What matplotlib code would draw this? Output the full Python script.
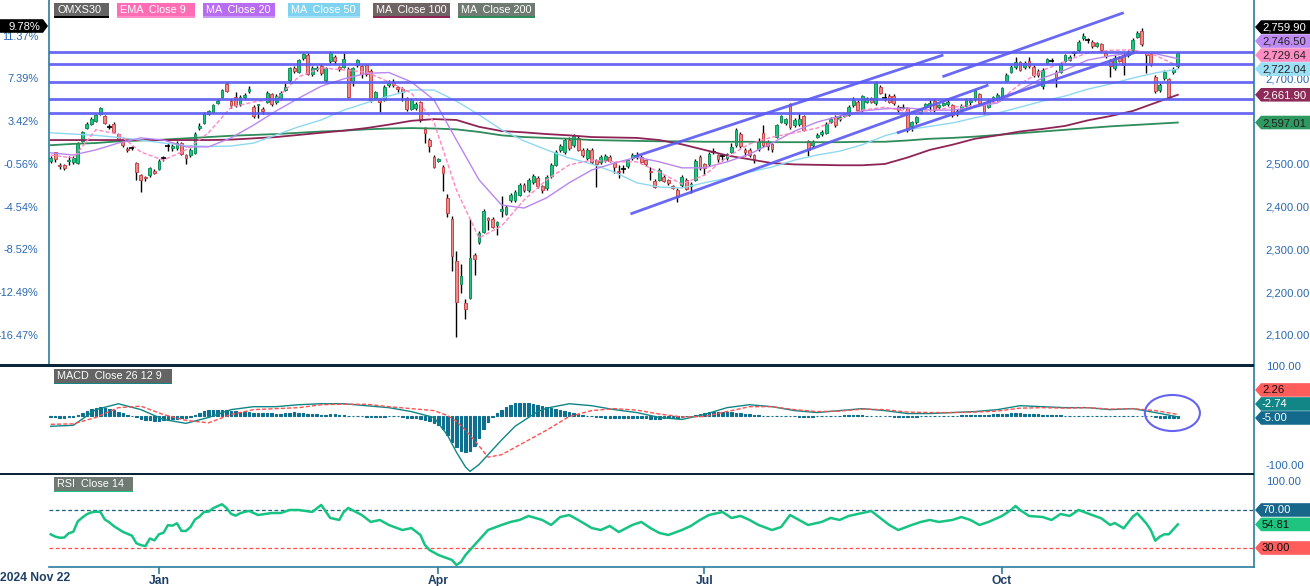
import matplotlib
matplotlib.use("Agg")
import matplotlib.pyplot as plt
from matplotlib.patches import Polygon, Rectangle, Ellipse
from matplotlib.ticker import FixedLocator, FuncFormatter
import numpy as np

plt.rcParams['font.family'] = ['Liberation Sans', 'DejaVu Sans']

# ---------------- data ----------------
opens = [2507,2527,2497,2498,2507,2505,2502,2554,2585,2594,2600,2617,2612,2588,2594,2570,2554,2536,2537,2502,
         2474,2470,2474,2484,2489,2512,2540,2537,2537,2549,2521,2521,2526,2585,2596,2617,2622,2643,2657,2688,
         2648,2657,2640,2657,2670,2634,2638,2629,2646,2663,2645,2654,2674,2696,2724,2716,2747,2755,2710,2722,
         2729,2696,2740,2751,2726,2728,2722,2693,2731,2729,2731,2718,2654,2650,2650,2685,2692,2679,2676,2654,
         2629,2631,2645,2582,2556,2517,2508,2494,2420,2371,2273,2219,2175,2187,2287,2318,2341,2374,2371,2357,
         2391,2383,2416,2416,2428,2451,2439,2458,2467,2449,2444,2472,2498,2533,2528,2556,2544,2561,2533,2514,
         2533,2509,2505,2509,2517,2502,2484,2489,2495,2514,2516,2517,2509,2484,2461,2463,2470,2463,2449,2439,
         2451,2463,2449,2463,2517,2500,2500,2528,2521,2517,2513,2529,2544,2570,2533,2533,2521,2535,2573,2552,
         2547,2564,2599,2595,2640,2591,2594,2612,2554,2544,2564,2569,2572,2599,2610,2605,2612,2615,2638,2646,
         2626,2646,2654,2642,2681,2656,2659,2659,2634,2633,2630,2589,2598,2620,2634,2638,2648,2633,2638,2640,
         2638,2616,2626,2636,2646,2651,2663,2643,2634,2650,2651,2656,2695,2716,2726,2739,2726,2742,2728,2718,
         2682,2737,2742,2716,2716,2742,2743,2759,2767,2794,2788,2786,2776,2780,2759,2741,2724,2749,2755,2755,
         2767,2798,2810,2760,2757,2704,2673,2700,2698,2715,2729]
highs = [2518,2529,2503,2500,2518,2518,2552,2578,2598,2609,2617,2634,2615,2593,2598,2573,2557,2540,2542,2505,
         2477,2473,2494,2489,2511,2519,2549,2547,2554,2552,2524,2537,2575,2596,2622,2627,2641,2652,2676,2692,
         2652,2669,2661,2666,2683,2638,2641,2634,2671,2666,2663,2671,2689,2727,2729,2746,2760,2759,2729,2729,
         2733,2727,2764,2754,2730,2760,2726,2727,2746,2731,2735,2722,2671,2652,2685,2696,2699,2683,2680,2657,
         2654,2645,2648,2587,2561,2521,2515,2498,2430,2378,2297,2266,2185,2371,2292,2344,2394,2376,2375,2366,
         2424,2405,2432,2440,2456,2456,2467,2477,2472,2452,2474,2502,2533,2547,2561,2563,2570,2565,2537,2537,
         2537,2512,2520,2523,2521,2505,2498,2497,2512,2526,2528,2521,2512,2494,2465,2490,2474,2466,2452,2443,
         2475,2467,2458,2512,2520,2503,2528,2537,2524,2523,2526,2549,2584,2575,2538,2537,2524,2560,2592,2555,
         2550,2594,2615,2607,2643,2607,2620,2615,2557,2556,2572,2579,2598,2609,2614,2614,2620,2638,2656,2650,
         2662,2657,2657,2694,2685,2665,2663,2663,2638,2640,2634,2601,2613,2629,2643,2650,2652,2641,2646,2655,
         2641,2628,2640,2654,2654,2676,2666,2646,2651,2660,2665,2680,2712,2731,2750,2742,2741,2750,2731,2722,
         2725,2749,2747,2720,2739,2758,2754,2764,2790,2806,2795,2789,2786,2784,2762,2745,2755,2752,2760,2766,
         2794,2811,2817,2763,2760,2708,2689,2720,2702,2726,2762]
lows = [2503,2505,2489,2486,2498,2500,2500,2551,2582,2591,2598,2614,2593,2582,2572,2554,2540,2528,2532,2463,
        2435,2460,2470,2476,2486,2507,2530,2530,2533,2520,2500,2517,2523,2580,2593,2614,2619,2640,2654,2668,
        2631,2633,2636,2652,2666,2608,2608,2618,2643,2636,2641,2650,2671,2692,2713,2712,2744,2707,2706,2717,
        2708,2692,2736,2734,2718,2724,2654,2682,2727,2700,2705,2645,2650,2622,2647,2680,2680,2668,2648,2624,
        2626,2627,2598,2550,2529,2490,2505,2437,2376,2250,2095,2198,2137,2185,2240,2313,2339,2346,2350,2334,
        2377,2380,2412,2410,2424,2435,2435,2454,2445,2432,2440,2468,2495,2528,2524,2533,2540,2530,2516,2510,
        2500,2446,2500,2505,2504,2480,2467,2480,2490,2510,2512,2502,2496,2462,2443,2460,2457,2452,2441,2412,
        2447,2438,2432,2460,2487,2475,2496,2523,2505,2508,2510,2526,2540,2537,2519,2516,2503,2531,2540,2533,
        2528,2561,2596,2591,2583,2587,2590,2577,2519,2540,2560,2565,2569,2596,2587,2601,2609,2612,2634,2622,
        2622,2643,2642,2639,2663,2648,2642,2638,2622,2628,2575,2577,2594,2617,2630,2624,2622,2629,2635,2636,
        2611,2612,2622,2633,2636,2648,2640,2618,2630,2646,2648,2653,2692,2713,2722,2717,2722,2725,2704,2704,
        2675,2733,2738,2680,2712,2738,2740,2752,2762,2790,2783,2772,2773,2763,2749,2704,2720,2738,2709,2751,
        2763,2795,2777,2713,2730,2667,2669,2696,2651,2710,2725]
closes = [2514.1,2511,2495,2491,2510,2514,2549,2575,2594,2605,2614,2631,2596,2587,2575,2558,2544,2533,2538,2481,
          2462,2467,2491,2479,2508,2513,2541,2541,2549,2523,2514,2533,2570,2589,2617,2624,2638,2648,2673,2671,
          2637,2637,2657,2662,2675,2612,2640,2623,2667,2640,2659,2667,2680,2724,2717,2743,2757,2710,2724,2724,
          2712,2724,2760,2740,2723,2745,2657,2724,2743,2710,2710,2650,2668,2645,2681,2690,2685,2675,2669,2628,
          2650,2640,2603,2572,2542,2493,2511,2478,2385,2285,2177,2238,2161,2280,2278,2339,2390,2369,2353,2364,
          2394,2400,2428,2435,2451,2439,2463,2472,2449,2439,2470,2498,2528,2542,2556,2537,2565,2533,2521,2533,
          2505,2500,2516,2519,2508,2493,2481,2488,2509,2521,2521,2505,2500,2481,2447,2486,2461,2456,2445,2423,
          2470,2442,2453,2507,2491,2491,2523,2529,2512,2518,2523,2540,2579,2543,2529,2521,2511,2554,2544,2541,
          2536,2591,2612,2605,2587,2603,2605,2580,2533,2552,2568,2575,2594,2605,2591,2610,2617,2634,2650,2626,
          2659,2654,2646,2690,2667,2655,2646,2642,2626,2632,2580,2598,2610,2626,2640,2642,2626,2638,2643,2645,
          2615,2625,2636,2650,2650,2673,2643,2622,2648,2656,2661,2677,2708,2728,2739,2721,2737,2729,2708,2708,
          2721,2745,2742,2700,2735,2755,2751,2760,2786,2799,2789,2776,2782,2767,2753,2729,2749,2742,2732,2763,
          2790,2807,2781,2755,2734,2671,2685,2716,2656,2722,2759.9]

# moving averages, read every 5 bars
ma_idx = list(range(0, 251, 5))
ema9 = [2521,2514,2580,2570,2528,2509,2533,2573,2633,2645,2652,2704,2725,2720,2715,2692,2666,2598,2439,2327,
        2355,2416,2463,2498,2509,2505,2505,2481,2453,2474,2516,2547,2563,2573,2584,2605,2626,2633,2622,2624,
        2633,2637,2645,2687,2719,2740,2760,2766,2767,2754,2729.64]
ma20 = [2526,2521,2533,2549,2561,2556,2540,2540,2561,2591,2624,2654,2682,2699,2712,2714,2692,2650,2556,2463,
        2404,2397,2421,2456,2486,2502,2516,2505,2491,2491,2505,2523,2549,2577,2598,2612,2624,2629,2631,2626,
        2626,2633,2643,2673,2701,2720,2743,2753,2760,2758,2746.50]
ma50 = [2573,2570,2567,2562,2556,2549,2543,2541,2542,2549,2568,2587,2603,2626,2643,2659,2673,2673,2647,2615,
        2580,2554,2533,2514,2500,2481,2456,2446,2444,2456,2467,2481,2493,2509,2521,2530,2545,2566,2580,2588,
        2596,2608,2619,2633,2647,2659,2675,2687,2701,2713,2722.04]
ma100 = [2556,2556,2556,2556,2556,2556,2556,2556,2557,2560,2563,2568,2573,2578,2584,2592,2601,2605,2603,2587,
         2577,2574,2570,2567,2563,2562,2561,2556,2546,2533,2520,2511,2502,2499,2498,2497,2497,2500,2515,2533,
         2545,2559,2567,2576,2582,2589,2602,2612,2624,2643,2661.90]
ma200 = [2544,2547,2549,2553,2555,2557,2560,2563,2566,2568,2570,2573,2576,2578,2581,2583,2584,2583,2581,2575,
         2567,2563,2561,2559,2556,2555,2554,2553,2553,2552,2552,2552,2551,2551,2551,2551,2552,2552,2555,2559,
         2561,2564,2568,2572,2576,2580,2584,2588,2591,2594,2597.01]

# MACD (26,12,9): lines read at the listed bars, histogram per bar
macd_idx = [0,5,10,15,20,25,30,35,40,45,50,55,60,65,70,75,80,85,88,90,92,93,95,97,100,103,105,108,110,115,
            120,125,130,135,140,145,150,155,160,165,170,175,180,185,190,195,200,205,210,215,220,225,230,235,
            240,245,250]
macd_line = [-22,-20,12,24,12,-8,-16,-4,12,18,18,22,24,24,20,16,8,-4,-40,-75,-105,-114,-100,-80,-50,-22,-10,8,15,24,
             20,12,6,-4,-8,2,16,22,18,10,6,10,14,10,4,4,6,8,12,20,18,16,16,12,14,6,-2.74]
macd_signal = [-18,-17,-4,16,19,2,-10,-15,2,12,14,16,22,23,23,18,14,10,0,-12,-30,-40,-62,-85,-80,-65,-55,-40,-30,-2,
               10,14,11,3,-3,-2,8,18,18,12,8,9,13,12,7,6,6,7,9,15,16,15,16,13,14,10,2.26]
macd_hist = [-4,-4,-5,-5,-4,-3,2,6,10,14,16,17,16,14,11,8,5,2,-1,-4,-7,-9,-10,-11,-11,-10,-9,-8,-7,-6,
             -6,-3,2,6,9,11,12,12,12,11,10,9,8,7,7,6,5,5,5,5,4,4,5,6,7,6,6,4,3,3,
             2,2,3,3,2,1,-1,-1,-1,-2,-3,-4,-4,-4,-3,-2,-2,-2,-3,-5,-6,-6,-7,-9,-12,-16,-20,-28,-40,-55,
             -65,-72,-75,-72,-62,-45,-28,-14,-4,5,12,18,22,25,26,26,25,24,22,20,18,16,14,12,10,8,6,4,2,0,
             -2,-3,-4,-5,-5,-5,-5,-6,-6,-6,-6,-6,-6,-7,-7,-7,-6,-6,-5,-5,-3,-2,0,2,4,6,7,8,8,8,
             8,7,6,5,4,3,2,1,0,0,-1,-1,-2,-2,-2,-2,-3,-3,-3,-3,-2,-2,-1,-1,0,0,1,1,1,1,
             1,0,0,-1,-1,-2,-2,-3,-3,-3,-3,-3,-3,-2,-2,-2,-2,-1,-1,0,0,0,1,1,1,2,2,2,2,3,
             3,4,4,5,5,5,4,4,3,3,2,2,1,1,1,0,0,0,0,0,-1,-1,-1,-1,-1,-2,-2,-1,-1,0,
             0,0,0,-1,-2,-4,-5,-6,-6,-6,-5.00]

# RSI 14
rsi_idx = list(range(0, 45)) + [46,49,51,53,55,58,60,62,64,65,66,69,71,73,75,78,80,82,83,84,86,89,90,91,92,93,
           95,97,100,102,104,106,109,111,113,115,117,120,122,124,126,129,131,133,135,137,140,142,144,146,149,
           151,153,155,157,160,162,164,166,168,171,173,175,177,180,182,184,186,188,191,193,195,197,200,202,
           204,206,208,211,213,214,215,217,220,222,224,226,228,231,233,235,236,238,240,241,243,244,245,246,
           247,248,250]
rsi_val = [44.4,42,40.8,41,45.5,47,58,62,65.5,67.5,68.2,68,60,57,53,50,47,45,43,35,33,32,40,38,44.4,46,54,53.5,
           56,48,47.9,52,60,63,68,68.2,71.8,74,76,72,66,64,66.5,68,69,
           64.7,66.8,66.8,70,70,67.9,75.3,61.6,59.5,67.9,72.1,64.7,57.4,59.5,54.2,48.9,51,43.7,33.2,27.9,22.6,
           17.4,12.1,15.3,22.6,27.9,38.4,48.9,54.2,57.4,59.5,63.7,59.5,54.2,62.6,64.7,59.5,51,48.9,53.2,46.8,
           54.2,57.4,51,45.8,43.7,48.9,53.2,59.5,64.7,67.9,61.6,63.7,59.5,54.2,48.9,52.1,64.7,59.5,54.2,57.4,
           61.6,59.5,63.7,66.8,68.9,61.6,54.2,48.9,54.2,57.4,59.5,57.4,59.5,62.6,59.5,54.2,57.4,63.7,70,74.2,
           70,63.7,62.6,59.5,65.8,63.7,70,64.7,61.3,54.2,56.3,50.7,62.9,66.5,56,48.9,37.7,41.9,44.4,44.4,54.81]

# drawn levels / trend channels
h_levels = [2761.3, 2733.2, 2692.5, 2651.3, 2620.0]
trend_lines = [((128.6, 2383.1), (208.0, 2684.8)),
               ((129.5, 2517.1), (198.0, 2755.0)),
               ((187.7, 2572.5), (240.5, 2760.8)),
               ((197.8, 2704.2), (238.0, 2853.9))]
month_pos = [24, 86, 145, 211]
month_lab = ['Jan', 'Apr', 'Jul', 'Oct']
start_label = '2024 Nov 22'
pct_ticks = [2100, 2200, 2300, 2400, 2500, 2600, 2700, 2800]
price_ticks = [2100, 2200, 2300, 2400, 2500, 2700]   # 2,600 / 2,800 sit under the value tags
macd_ticks = [-100, 100]
rsi_ticks = [100]

# ---------------- layout ----------------
W, H = 1310, 586
fig = plt.figure(figsize=(W / 100, H / 100), dpi=100)
fig.patch.set_facecolor('white')

def fx(x):
    return x / W

def fy(y):
    return 1 - y / H

XL, XR = 49, 1254
ax = fig.add_axes([fx(XL), fy(365), (XR - XL) / W, 365 / H])
axm = fig.add_axes([fx(XL), fy(473), (XR - XL) / W, (473 - 366) / H], sharex=ax)
axr = fig.add_axes([fx(XL), fy(567), (XR - XL) / W, (567 - 475) / H], sharex=ax)

AXC = '#2e7d9e'
LBL = '#2a68b0'
for a in (ax, axm, axr):
    for s in a.spines.values():
        s.set_visible(False)
    a.set_facecolor('none')
    a.tick_params(axis='x', which='both', bottom=False, labelbottom=False)

ax.set_xlim(-0.38, 266.9)
ax.set_ylim(2029.8, 2883.6)
axm.set_ylim(-117.3, 101)
axr.set_ylim(10, 106.8)

# ---------- candles ----------
o = np.array(opens, float); c = np.array(closes, float)
hh = np.array(highs, float); ll = np.array(lows, float)
idx = np.arange(len(c))
up = c >= o
doji = np.abs(c - o) < 1.6
ax.vlines(idx, ll, hh, color='black', lw=1.0, zorder=2)
bb = np.minimum(o, c); bh = np.abs(c - o)
m = ~doji & up
ax.bar(idx[m], bh[m], bottom=bb[m], width=0.62, color='#1fc47f', edgecolor='#15915d', lw=0.7, zorder=3)
m = ~doji & ~up
ax.bar(idx[m], bh[m], bottom=bb[m], width=0.62, color='#e98b8b', edgecolor='#c94848', lw=0.7, zorder=3)
ax.hlines(c[doji], idx[doji] - 0.55, idx[doji] + 0.55, color='black', lw=1.2, zorder=3)

# ---------- overlays ----------
ax.plot(ma_idx, ma200, color='#2e8b5a', lw=1.3, zorder=4)
ax.plot(ma_idx, ma100, color='#8e2456', lw=1.3, zorder=4)
ax.plot(ma_idx, ma50, color='#8fd8f2', lw=1.0, zorder=4)
ax.plot(ma_idx, ma20, color='#b985f2', lw=1.0, zorder=4)
ax.plot(ma_idx, ema9, color='#ff86c4', lw=1.0, dashes=(3, 1.5), zorder=4)

for lv in h_levels:
    ax.axhline(lv, color='#5c5cf2', lw=2.0, alpha=0.92, zorder=5)
for (x1, y1), (x2, y2) in trend_lines:
    ax.plot([x1, x2], [y1, y2], color='#5c5cf2', lw=2.0, alpha=0.92, zorder=5, solid_capstyle='butt')

# ---------- price axes labels ----------
ax.yaxis.set_major_locator(FixedLocator(price_ticks))
ax.yaxis.tick_right()
ax.yaxis.set_major_formatter(FuncFormatter(lambda v, p: f"{v:,.2f}"))
ax.tick_params(axis='y', length=0, pad=8.5, labelsize=8.1, labelcolor=LBL)
base = closes[0]
sec = ax.secondary_yaxis('left', functions=(lambda v: v, lambda v: v))
sec.yaxis.set_major_locator(FixedLocator(pct_ticks))
sec.yaxis.set_major_formatter(FuncFormatter(lambda v, p: f"{(v / base - 1) * 100:.2f}%"))
sec.tick_params(axis='y', length=0, pad=7.5, labelsize=7.9, labelcolor=LBL)
for s in sec.spines.values():
    s.set_visible(False)

# ---------- MACD ----------
hist = np.array(macd_hist, float)
axm.bar(idx, hist, width=0.55, color='#0f6f8e', edgecolor='#0f6f8e', lw=0.8, zorder=2)
axm.plot(macd_idx, macd_line, color='#0e8585', lw=1.0, zorder=3)
axm.plot(macd_idx, macd_signal, color='#ff5050', lw=1.0, dashes=(3, 1.5), zorder=3)
axm.yaxis.set_major_locator(FixedLocator(macd_ticks))
axm.yaxis.tick_right()
axm.yaxis.set_major_formatter(FuncFormatter(lambda v, p: f"{v:.2f}"))
axm.tick_params(axis='y', length=0, pad=8.5, labelsize=8.1, labelcolor=LBL)
axm.add_patch(Ellipse((248.8, 5.1), width=12.2, height=73.5, fill=False, edgecolor='#6464f0', lw=1.5, zorder=5))

# ---------- RSI ----------
axr.plot(rsi_idx, rsi_val, color='#17c383', lw=1.8, zorder=3)
axr.axhline(70, color='#1f5f7f', lw=0.9, dashes=(3, 2))
axr.axhline(30, color='#ff4d4d', lw=0.9, dashes=(3, 2))
axr.yaxis.set_major_locator(FixedLocator(rsi_ticks))
axr.yaxis.tick_right()
axr.yaxis.set_major_formatter(FuncFormatter(lambda v, p: f"{v:.2f}"))
axr.tick_params(axis='y', length=0, pad=8.5, labelsize=8.1, labelcolor=LBL)
axr.spines['bottom'].set_visible(True)
axr.spines['bottom'].set_color(AXC)
axr.spines['bottom'].set_linewidth(1.2)
axr.set_xticks(month_pos)
axr.set_xticklabels(month_lab)
axr.tick_params(axis='x', bottom=True, labelbottom=True, length=5, width=1.2, color=AXC, pad=0.5,
                labelsize=8.7, labelcolor='#1d3f66')
for t in axr.get_xticklabels():
    t.set_fontweight('bold')
fig.text(fx(0), fy(578), start_label, ha='left', va='center', fontsize=8.7, fontweight='bold', color='#1d3f66')

# ---------- frame lines ----------
fig.add_artist(plt.Line2D([fx(XR), fx(XR)], [fy(0), fy(567)], color=AXC, lw=1.2))
fig.add_artist(plt.Line2D([fx(XL), fx(XL)], [fy(0), fy(365)], color=AXC, lw=1.2))
for ysep in (365.5, 473.8):
    fig.add_artist(Rectangle((0, fy(ysep + 1.2)), fx(XR), 2.4 / H, transform=fig.transFigure,
                             color='#0b2638', lw=0, zorder=6))

# ---------- tags ----------
def right_tag(y, text, bg, fg):
    pts = [(fx(1255), fy(y)), (fx(1261), fy(y - 6.8)), (fx(1310), fy(y - 6.8)),
           (fx(1310), fy(y + 6.8)), (fx(1261), fy(y + 6.8))]
    fig.add_artist(Polygon(pts, closed=True, transform=fig.transFigure, color=bg, lw=0, zorder=7))
    fig.text(fx(1262), fy(y + 0.5), text, ha='left', va='center', fontsize=8.1, color=fg, zorder=8)

def data_to_py(a, v):
    yd = a.transData.transform((0, v))[1]
    return H - yd

def stacked(a, items):
    ys = [(data_to_py(a, v), v, t, bg, fg) for v, t, bg, fg in items]
    ys.sort(key=lambda r: -r[0])
    prev = None
    for y, v, t, bg, fg in ys:
        if prev is not None:
            y = min(y, prev - 14)
        right_tag(y, t, bg, fg)
        prev = y

stacked(ax, [(closes[-1], f"{closes[-1]:,.2f}", '#000000', 'white'),
             (ma20[-1], f"{ma20[-1]:,.2f}", '#c08af5', '#222222'),
             (ema9[-1], f"{ema9[-1]:,.2f}", '#ff8cc2', '#222222'),
             (ma50[-1], f"{ma50[-1]:,.2f}", '#9be0f5', '#222222'),
             (ma100[-1], f"{ma100[-1]:,.2f}", '#8e2a58', 'white'),
             (ma200[-1], f"{ma200[-1]:,.2f}", '#2e9a62', '#222222')])
stacked(axm, [(macd_signal[-1], f"{macd_signal[-1]:.2f}", '#ff5c5c', '#111111'),
              (macd_line[-1], f"{macd_line[-1]:.2f}", '#128686', 'white'),
              (macd_hist[-1], f"{macd_hist[-1]:.2f}", '#136a8c', 'white')])
for v, bg, fg in [(70, '#17678a', 'white'), (rsi_val[-1], '#1ec47f', '#111111'), (30, '#ff5c5c', '#111111')]:
    right_tag(data_to_py(axr, v), f"{v:.2f}", bg, fg)

# left percent tag (aligned with the stacked last-price tag)
ylt = 26
pct = (closes[-1] / base - 1) * 100
pts = [(fx(0), fy(ylt - 6.8)), (fx(43), fy(ylt - 6.8)), (fx(48), fy(ylt)), (fx(43), fy(ylt + 6.8)), (fx(0), fy(ylt + 6.8))]
fig.add_artist(Polygon(pts, closed=True, transform=fig.transFigure, color='black', lw=0, zorder=7))
fig.text(fx(40.5), fy(ylt + 0.5), f"{pct:.2f}%", ha='right', va='center', fontsize=8.1, color='white', zorder=8)

# ---------- legend boxes ----------
def box(x0, x1, y0, y1, text, bg, ul):
    fig.add_artist(Rectangle((fx(x0), fy(y1)), (x1 - x0) / W, (y1 - y0) / H, transform=fig.transFigure,
                             color=bg, lw=0, zorder=7))
    fig.add_artist(Rectangle((fx(x0), fy(y1 + 1.8)), (x1 - x0) / W, 1.8 / H, transform=fig.transFigure,
                             color=ul, lw=0, zorder=7))
    fig.text(fx(x0 + 3), fy((y0 + y1) / 2 + 0.3), text, ha='left', va='center', fontsize=7.8,
             color='white', zorder=8)

box(54, 109, 3, 16.5, 'OMXS30', '#646464', '#000000')
box(117, 195, 3, 16.5, 'EMA  Close 9', '#ff6eb4', '#ff8cc8')
box(203, 275, 3, 16.5, 'MA  Close 20', '#b86cf2', '#c99af5')
box(288, 360, 3, 16.5, 'MA  Close 50', '#7fd3f0', '#a5e2f5')
box(373, 450, 3, 16.5, 'MA  Close 100', '#6e6464', '#8e2456')
box(458, 535, 3, 16.5, 'MA  Close 200', '#6e7a72', '#2e8b5a')
box(54, 172, 369, 382.5, 'MACD  Close 26 12 9', '#646464', '#128686')
box(54, 133, 477, 490.5, 'RSI  Close 14', '#6e7a72', '#17c383')

fig.savefig('out.png', dpi=100, facecolor='white')
